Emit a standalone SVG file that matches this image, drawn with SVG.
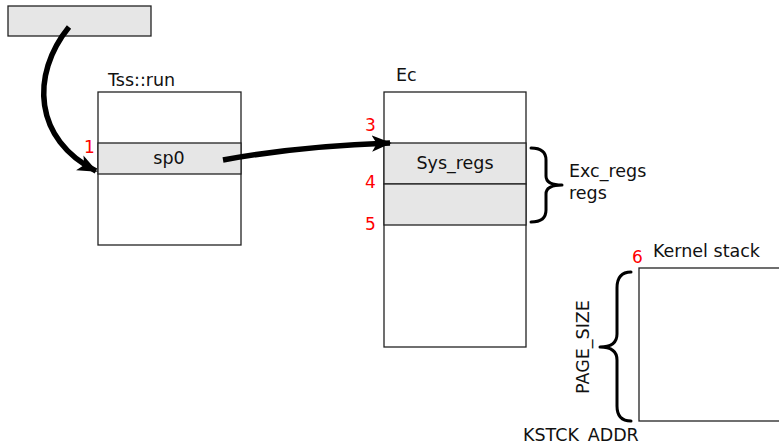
<svg xmlns="http://www.w3.org/2000/svg" width="779" height="444" viewBox="0 0 779 444">
  <style>
    text { font-family: "DejaVu Sans", sans-serif; font-size: 17.5px; fill: #111; }
    .num { fill: #ff0000; font-size: 17px; }
    .box { fill: #ffffff; stroke: #222; stroke-width: 1.3; }
    .row { fill: #e6e6e6; stroke: #222; stroke-width: 1.3; }
    .brace { fill: none; stroke: #000; stroke-width: 3; stroke-linecap: round; stroke-linejoin: round; }
    .arrow { fill: none; stroke: #000; stroke-width: 5.5; }
  </style>
  <defs>
    <marker id="head" viewBox="0 0 12 10" refX="11" refY="5" markerWidth="3.6" markerHeight="3.3" orient="auto" markerUnits="strokeWidth">
      <path d="M0,0 L12,5 L0,10 L3,5 Z" fill="#000"/>
    </marker>
  </defs>

  <g id="caller">
    <rect class="row" x="8" y="6" width="143" height="30"/>
  </g>

  <g id="tss-run">
    <text x="108" y="86">Tss::run</text>
    <rect class="box" x="98" y="92" width="143" height="153"/>
    <rect class="row" x="98" y="143" width="143" height="31"/>
    <text x="169" y="164" text-anchor="middle">sp0</text>
    <text class="num" x="84" y="153">1</text>
  </g>

  <g id="ec">
    <text x="396" y="81">Ec</text>
    <rect class="box" x="384" y="92" width="142" height="255"/>
    <rect class="row" x="384" y="143" width="142" height="41"/>
    <rect class="row" x="384" y="184" width="142" height="41"/>
    <text x="455" y="169" text-anchor="middle">Sys_regs</text>
    <text class="num" x="365" y="131">3</text>
    <text class="num" x="365" y="188">4</text>
    <text class="num" x="365" y="230">5</text>
  </g>

  <g id="exc-regs">
    <path class="brace" d="M531,148 Q546,148 546,160 L546,176 Q546,185 562,185 Q546,185 546,194 L546,210 Q546,222 531,222"/>
    <text x="569" y="177">Exc_regs</text>
    <text x="569" y="199">regs</text>
  </g>

  <g id="kernel-stack">
    <text x="653" y="257">Kernel stack</text>
    <text class="num" x="632" y="263">6</text>
    <rect class="box" x="639" y="268" width="145" height="153"/>
    <path class="brace" d="M631,272 Q617,272 617,288 L617,334 Q617,347 600,347 Q617,347 617,360 L617,406 Q617,421 631,421"/>
    <text x="0" y="0" transform="translate(589,347) rotate(-90)" text-anchor="middle">PAGE_SIZE</text>
    <text x="523" y="441">KSTCK_ADDR</text>
  </g>

  <g id="connectors">
    <path class="arrow" d="M69,27 C30,75 34,140 96,171" marker-end="url(#head)"/>
    <path class="arrow" d="M223,160 Q300,146 390,143" marker-end="url(#head)"/>
  </g>
</svg>
